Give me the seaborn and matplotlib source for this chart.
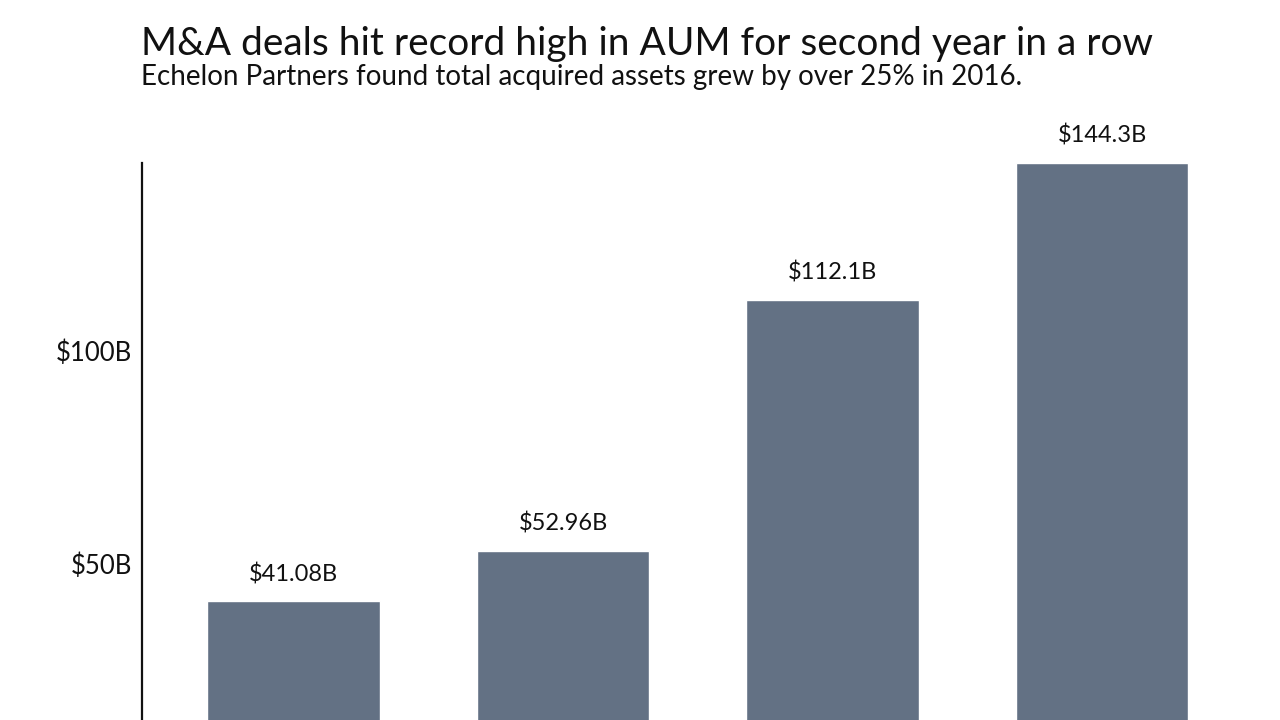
import pandas as pd
import matplotlib.pyplot as plt
import seaborn as sns

# data
years = ["2013", "2014", "2015", "2016"]
aum_billions = [41.08, 52.96, 112.1, 144.3]
bar_labels = ["$41.08B", "$52.96B", "$112.1B", "$144.3B"]
ytick_values = [50, 100]
ytick_labels = ["$50B", "$100B"]

df = pd.DataFrame({"year": years, "aum": aum_billions})

sns.set_style("white")
plt.rcParams["font.family"] = ["Lato", "DejaVu Sans"]

fig = plt.figure(figsize=(12.8, 7.2), dpi=100)
# axes runs off the bottom of the figure, like the cropped original
ax = fig.add_axes([142 / 1280, -56 / 720, 1111.5 / 1280, 613 / 720])

sns.barplot(data=df, x="year", y="aum", color="#637184", saturation=1,
            width=0.64, ax=ax)

ax.set_xlim(-0.562, 3.562)
ax.set_ylim(0, 144.3)
ax.set_yticks(ytick_values)
ax.set_yticklabels(ytick_labels)
ax.tick_params(axis="y", length=0, pad=7, labelsize=18.5, colors="#111111")
# year labels sit below the visible area in the original
ax.tick_params(axis="x", length=0, labelbottom=False)
ax.set_xlabel("")
ax.set_ylabel("")
for side in ["top", "right", "bottom"]:
    ax.spines[side].set_visible(False)
ax.spines["left"].set_color("#111111")
ax.spines["left"].set_linewidth(1.6)

for i, (v, lab) in enumerate(zip(aum_billions, bar_labels)):
    ax.annotate(lab, (i, v), xytext=(0, 14.5), textcoords="offset points",
                ha="center", va="baseline", fontsize=17, color="#111111")

fig.text(141 / 1280, 1 - 55 / 720,
         "M&A deals hit record high in AUM for second year in a row",
         fontsize=28, va="baseline", ha="left", color="#111111")
fig.text(141 / 1280, 1 - 85 / 720,
         "Echelon Partners found total acquired assets grew by over 25% in 2016.",
         fontsize=20, va="baseline", ha="left", color="#111111")

fig.savefig("out.png", dpi=100)
